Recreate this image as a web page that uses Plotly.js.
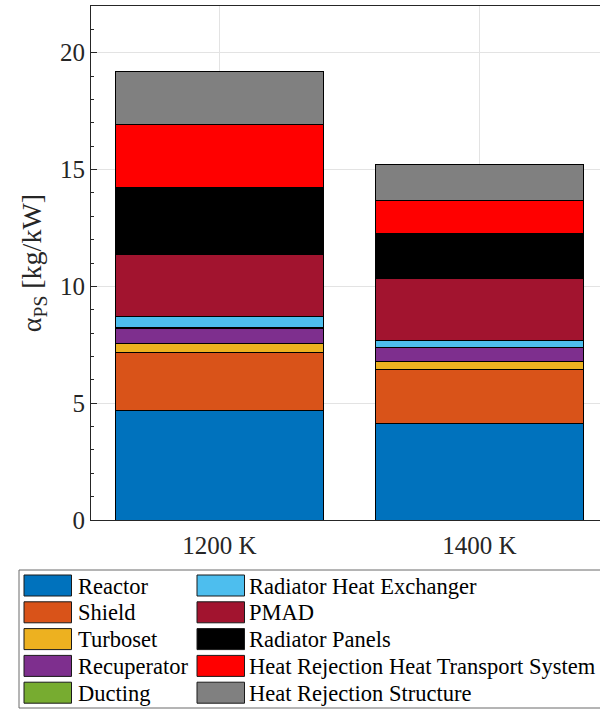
<!DOCTYPE html>
<html>
<head>
<meta charset="utf-8">
<script src="https://cdn.plot.ly/plotly-3.0.1.min.js"></script>
<style>
  html, body { margin: 0; padding: 0; background: #fff; overflow: hidden; }
  #chart { width: 600px; height: 710px; }
</style>
</head>
<body>
<div id="chart"></div>
<script>
// ---- Data ----
const categories = ['1200 K', '1400 K'];
const seriesNames = [
  'Reactor', 'Shield', 'Turboset', 'Recuperator', 'Ducting',
  'Radiator Heat Exchanger', 'PMAD', 'Radiator Panels',
  'Heat Rejection Heat Transport System', 'Heat Rejection Structure'
];
const reactor      = [4.69, 4.14];
const shield       = [2.49, 2.29];
const turboset     = [0.36, 0.34];
const recuperator  = [0.66, 0.60];
const ducting      = [0.02, 0.03];
const radiatorHX   = [0.49, 0.29];
const pmad         = [2.67, 2.63];
const radPanels    = [2.87, 1.96];
const hrHTS        = [2.68, 1.39];
const hrStructure  = [2.27, 1.53];
const yTickVals    = [0, 5, 10, 15, 20];

// ---- Styles ----
const seriesValues = [reactor, shield, turboset, recuperator, ducting,
                      radiatorHX, pmad, radPanels, hrHTS, hrStructure];
const colors = ['#0072BD', '#D95319', '#EDB120', '#7E2F8E', '#77AC30',
                '#4DBEEE', '#A2142F', '#000000', '#FF0000', '#808080'];
const FONT = 'Liberation Serif, DejaVu Serif, serif';
const AX = '#262626';

const traces = seriesNames.map((name, i) => ({
  type: 'bar',
  name: name,
  x: categories,
  y: seriesValues[i],
  marker: { color: colors[i], line: { color: '#000', width: 1 } },
  showlegend: false,
  hoverinfo: 'name+y'
}));

// plot area geometry (pixels) for the hand-built legend
const W = 600, H = 710, L = 91, R = 0, T = 6, B = 190;
const pw = W - L - R, ph = H - T - B;
const px = v => (v - L) / pw;
const py = v => (H - B - v) / ph;

const shapes = [];
const annotations = [];
// legend frame
shapes.push({ type: 'rect', xref: 'paper', yref: 'paper',
  x0: px(19), x1: px(640), y0: py(570), y1: py(708),
  line: { color: '#6a6a6a', width: 1 }, fillcolor: '#fff', layer: 'above' });

const colX = [24, 197];
const textX = [76, 247];
const rowTop0 = 575, rowStep = 26.8, swH = 21, swW = 47.5;
seriesNames.forEach((name, i) => {
  const c = Math.floor(i / 5), r = i % 5;
  const top = rowTop0 + r * rowStep;
  shapes.push({ type: 'rect', xref: 'paper', yref: 'paper',
    x0: px(colX[c]), x1: px(colX[c] + swW), y0: py(top), y1: py(top + swH),
    fillcolor: colors[i], line: { color: '#1a1a1a', width: 1 }, layer: 'above' });
  annotations.push({ xref: 'paper', yref: 'paper', x: px(textX[c]), y: py(top + swH / 2 + 0.5),
    xanchor: 'left', yanchor: 'middle', showarrow: false, text: name,
    font: { family: FONT, size: 22.5, color: '#000' } });
});

const layout = {
  width: W, height: H,
  margin: { l: L, r: R, t: T, b: B, pad: 0 },
  paper_bgcolor: '#fff', plot_bgcolor: '#fff',
  barmode: 'stack', bargap: 0.2,
  font: { family: FONT, color: AX },
  showlegend: false,
  xaxis: {
    type: 'category',
    range: [-0.494, 1.464],
    showgrid: true, gridcolor: '#e3e3e3', gridwidth: 1,
    showline: true, mirror: true, linecolor: AX, linewidth: 1,
    ticks: '', tickfont: { family: FONT, size: 25, color: AX },
    ticklabelstandoff: 3,
    zeroline: false, fixedrange: true
  },
  yaxis: {
    range: [0, 22],
    tickvals: yTickVals, ticktext: yTickVals.map(String),
    ticks: 'inside', ticklen: 6, tickcolor: AX, tickwidth: 1,
    minor: { dtick: 1, tick0: 0, ticks: 'inside', ticklen: 3, tickcolor: AX, showgrid: false },
    showgrid: true, gridcolor: '#e3e3e3', gridwidth: 1,
    showline: true, linecolor: AX, linewidth: 1,
    zeroline: false,
    tickfont: { family: FONT, size: 25, color: AX },
    title: { text: 'α<sub>PS</sub> [kg/kW]', font: { family: FONT, size: 28, color: AX }, standoff: 10 },
    fixedrange: true
  },
  shapes: shapes,
  annotations: annotations
};

Plotly.newPlot('chart', traces, layout, { displayModeBar: false, staticPlot: true });
</script>
</body>
</html>
